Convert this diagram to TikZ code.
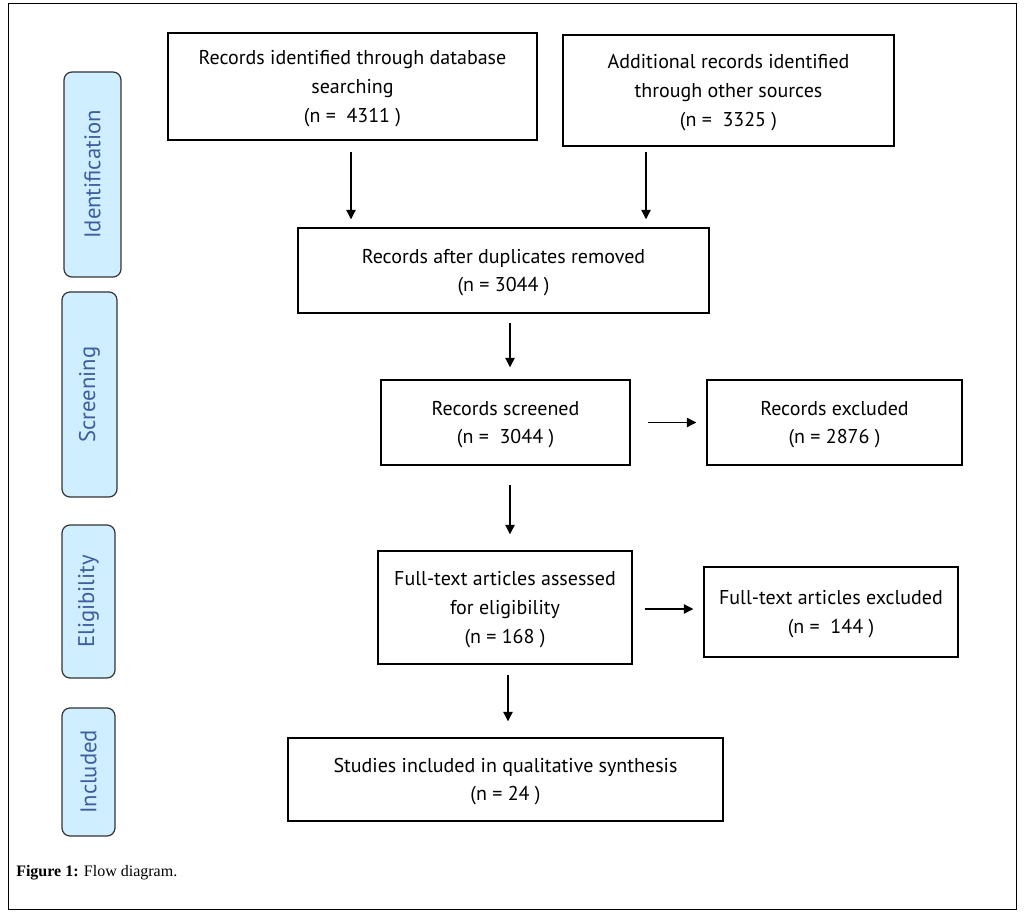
\documentclass[tikz,border=0pt]{standalone}
\usepackage{fontspec}
\setmainfont{PT Sans}
\newfontfamily\capfont{Liberation Serif}
\usetikzlibrary{arrows.meta}
\definecolor{sidefill}{HTML}{CFEEFF}
\definecolor{sidetext}{HTML}{3D5E9E}
\tikzset{
  box/.style={draw=black, line width=1.1pt, fill=white, align=center, inner sep=0pt,
    text depth=-0.5pt, font=\fontsize{15}{21.5}\selectfont},
  sidebox/.style={draw=black!80, line width=0.9pt, fill=sidefill, rounded corners=6pt, inner sep=0pt,
    text=sidetext, font=\fontsize{17}{19}\selectfont},
  arr/.style={line width=0.9pt, -{Triangle[length=7pt,width=7pt]}},
}
\begin{document}
\begin{tikzpicture}[x=0.75pt,y=-0.75pt]
\useasboundingbox (0,0) rectangle (1025,916);
\draw[line width=0.6pt] (8,3) rectangle (1016,909);
% side labels
\node[sidebox, minimum width=42.75pt, minimum height=153.75pt] (s1) at (92.5,174.5) {\rotatebox{90}{Identification}};
\node[sidebox, minimum width=41.25pt, minimum height=153.75pt] (s2) at (89.5,394.5) {\rotatebox{90}{Screening}};
\node[sidebox, minimum width=39.75pt, minimum height=114.75pt] (s3) at (88.5,601.5) {\rotatebox{90}{Eligibility}};
\node[sidebox, minimum width=39.75pt, minimum height=96pt] (s4) at (88.5,772) {\rotatebox{90}{Included}};
% boxes
\node[box, minimum width=276.75pt, minimum height=80.25pt] (b1) at (352.5,86.5) {Records identified through database\\searching\\(n =~~4311 )};
\node[box, minimum width=248.25pt, minimum height=83.25pt] (b2) at (728.5,90.5) {Additional records identified\\through other sources\\(n =~~3325 )};
\node[box, minimum width=308.25pt, minimum height=63.75pt] (b3) at (503.5,270.5) {Records after duplicates removed\\(n = 3044 )};
\node[box, minimum width=186.75pt, minimum height=63.75pt] (b4) at (505.5,422.5) {Records screened\\(n =~~3044 )};
\node[box, minimum width=191.25pt, minimum height=63.75pt] (b5) at (834.5,422.5) {Records excluded\\(n = 2876 )};
\node[box, minimum width=190.5pt, minimum height=84.75pt] (b6) at (505,607.5) {Full-text articles assessed\\for eligibility\\(n = 168 )};
\node[box, minimum width=190.5pt, minimum height=67.5pt] (b7) at (831,612) {Full-text articles excluded\\(n =~~144 )};
\node[box, minimum width=326.25pt, minimum height=62.25pt] (b8) at (505.5,779.5) {Studies included in qualitative synthesis\\(n = 24 )};
% connectors
\coordinate (c1) at (351,140);
\coordinate (c2) at (646,146);
\coordinate (c3) at (510,313);
\coordinate (c5) at (510,465);
\coordinate (c7) at (508,664);
\draw[arr, shorten <=9pt, shorten >=6pt] (c1) -- (c1 |- b3.north);
\draw[arr, shorten <=4.5pt, shorten >=6pt] (c2) -- (c2 |- b3.north);
\draw[arr, shorten <=7.5pt, shorten >=9pt] (c3) -- (c3 |- b4.north);
\draw[arr, shorten <=12.75pt, shorten >=7.5pt] (b4.east) -- (b5.west);
\draw[arr, shorten <=15pt, shorten >=12pt] (c5) -- (c5 |- b6.north);
\draw[arr, shorten <=9pt, shorten >=7.5pt] (b6.east |- b7.center) ++(0,-3) coordinate (c6s) (c6s) -- (c6s -| b7.west);
\draw[arr, shorten <=8.25pt, shorten >=12pt] (c7) -- (c7 |- b8.north);
% caption
\node[anchor=west, inner sep=0pt, font=\capfont\fontsize{12}{14}\selectfont] (cap) at (16,873) {\textbf{Figure 1:} Flow diagram.};
\end{tikzpicture}
\end{document}
